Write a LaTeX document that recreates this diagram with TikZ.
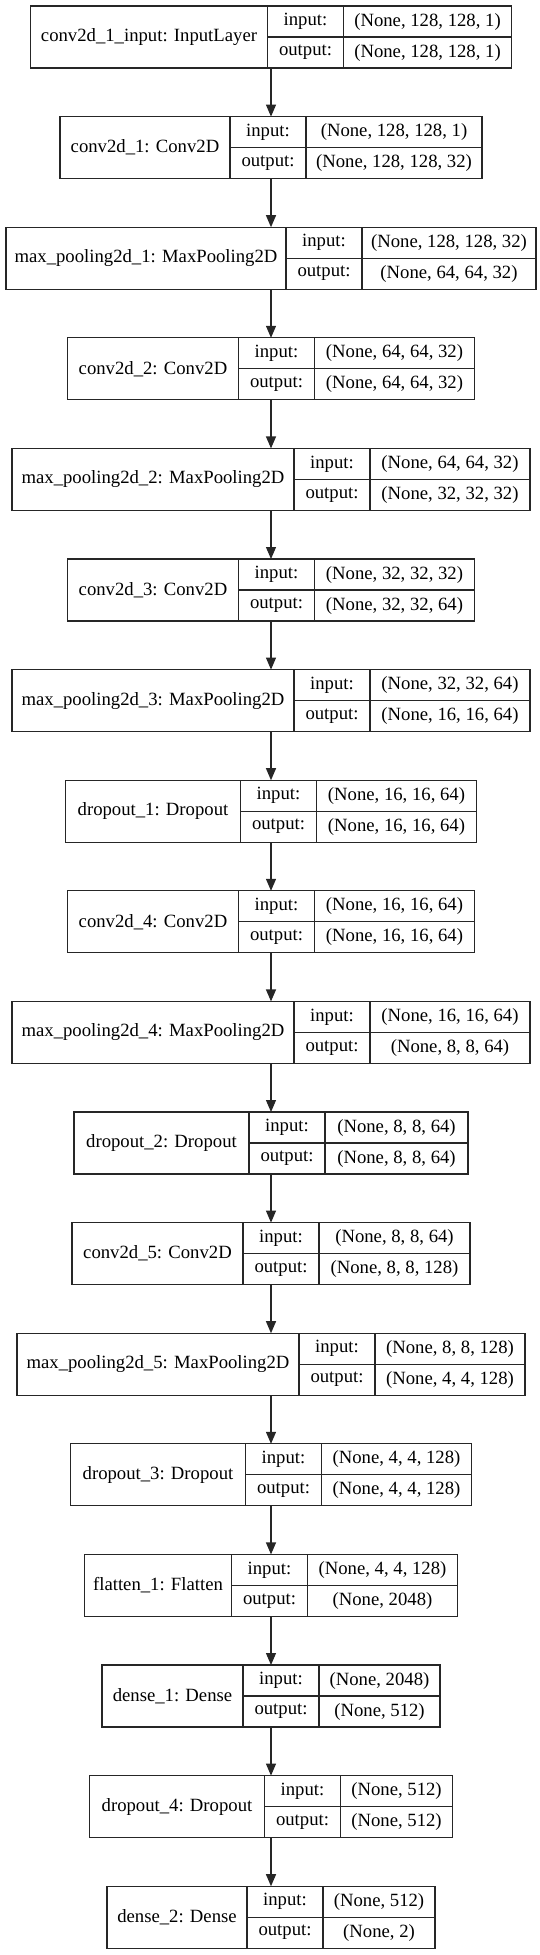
\documentclass[tikz,border=0pt]{standalone}
\usepackage{fontspec}
\setmainfont{Liberation Serif}
\usetikzlibrary{arrows.meta,fit}

% one record: name | input:/output: | shapes
\newcommand{\layerrow}[7]{%
  \pgfmathsetmacro{\rowleft}{271-(#3+76+#4)/2}
  \pgfmathsetmacro{\rowtop}{6+(#2)*110.6}
  \node[cell, minimum width=#3pt, minimum height=62pt] (#1) at (\rowleft,\rowtop) {#5};
  \node[cell, minimum width=76pt] (#1-li) at (#1.north east) {input:};
  \node[cell, minimum width=76pt] (#1-lo) at (#1-li.south west) {output:};
  \node[cell, minimum width=#4pt] (#1-vi) at (#1-li.north east) {#6};
  \node[cell, minimum width=#4pt] (#1-vo) at (#1-vi.south west) {#7};
  \node[fit=(#1)(#1-vo), inner sep=0pt, outer sep=0pt] (#1-box) {};
}

\begin{document}
\begin{tikzpicture}[x=1pt, y=-1pt,
    cell/.style={draw=black!85, line width=1.2pt, inner sep=0pt, outer sep=0pt,
      minimum height=31pt, anchor=north west,
      font=\fontsize{18.7}{22}\selectfont},
    flow/.style={draw=black!85, line width=1.2pt, -{Triangle[length=12pt,width=10pt]}}]
  \useasboundingbox (0,0) rectangle (540,1955);

  \layerrow{L1}{0}{237}{168}{conv2d\_1\_input: InputLayer}{(None, 128, 128, 1)}{(None, 128, 128, 1)}
  \layerrow{L2}{1}{170}{176}{conv2d\_1: Conv2D}{(None, 128, 128, 1)}{(None, 128, 128, 32)}
  \layerrow{L3}{2}{280}{174}{max\_pooling2d\_1: MaxPooling2D}{(None, 128, 128, 32)}{(None, 64, 64, 32)}
  \layerrow{L4}{3}{171}{160}{conv2d\_2: Conv2D}{(None, 64, 64, 32)}{(None, 64, 64, 32)}
  \layerrow{L5}{4}{282}{160}{max\_pooling2d\_2: MaxPooling2D}{(None, 64, 64, 32)}{(None, 32, 32, 32)}
  \layerrow{L6}{5}{171}{160}{conv2d\_3: Conv2D}{(None, 32, 32, 32)}{(None, 32, 32, 64)}
  \layerrow{L7}{6}{282}{160}{max\_pooling2d\_3: MaxPooling2D}{(None, 32, 32, 64)}{(None, 16, 16, 64)}
  \layerrow{L8}{7}{175}{160}{dropout\_1: Dropout}{(None, 16, 16, 64)}{(None, 16, 16, 64)}
  \layerrow{L9}{8}{171}{160}{conv2d\_4: Conv2D}{(None, 16, 16, 64)}{(None, 16, 16, 64)}
  \layerrow{L10}{9}{282}{160}{max\_pooling2d\_4: MaxPooling2D}{(None, 16, 16, 64)}{(None, 8, 8, 64)}
  \layerrow{L11}{10}{175}{143}{dropout\_2: Dropout}{(None, 8, 8, 64)}{(None, 8, 8, 64)}
  \layerrow{L12}{11}{171}{151}{conv2d\_5: Conv2D}{(None, 8, 8, 64)}{(None, 8, 8, 128)}
  \layerrow{L13}{12}{282}{150}{max\_pooling2d\_5: MaxPooling2D}{(None, 8, 8, 128)}{(None, 4, 4, 128)}
  \layerrow{L14}{13}{175}{150}{dropout\_3: Dropout}{(None, 4, 4, 128)}{(None, 4, 4, 128)}
  \layerrow{L15}{14}{147}{150}{flatten\_1: Flatten}{(None, 4, 4, 128)}{(None, 2048)}
  \layerrow{L16}{15}{141}{121}{dense\_1: Dense}{(None, 2048)}{(None, 512)}
  \layerrow{L17}{16}{175}{112}{dropout\_4: Dropout}{(None, 512)}{(None, 512)}
  \layerrow{L18}{17}{140}{112}{dense\_2: Dense}{(None, 512)}{(None, 2)}

  \foreach \i [evaluate=\i as \j using int(\i+1)] in {1,...,17}
    \draw[flow] (L\i-box.south) -- (L\j-box.north);
\end{tikzpicture}
\end{document}
